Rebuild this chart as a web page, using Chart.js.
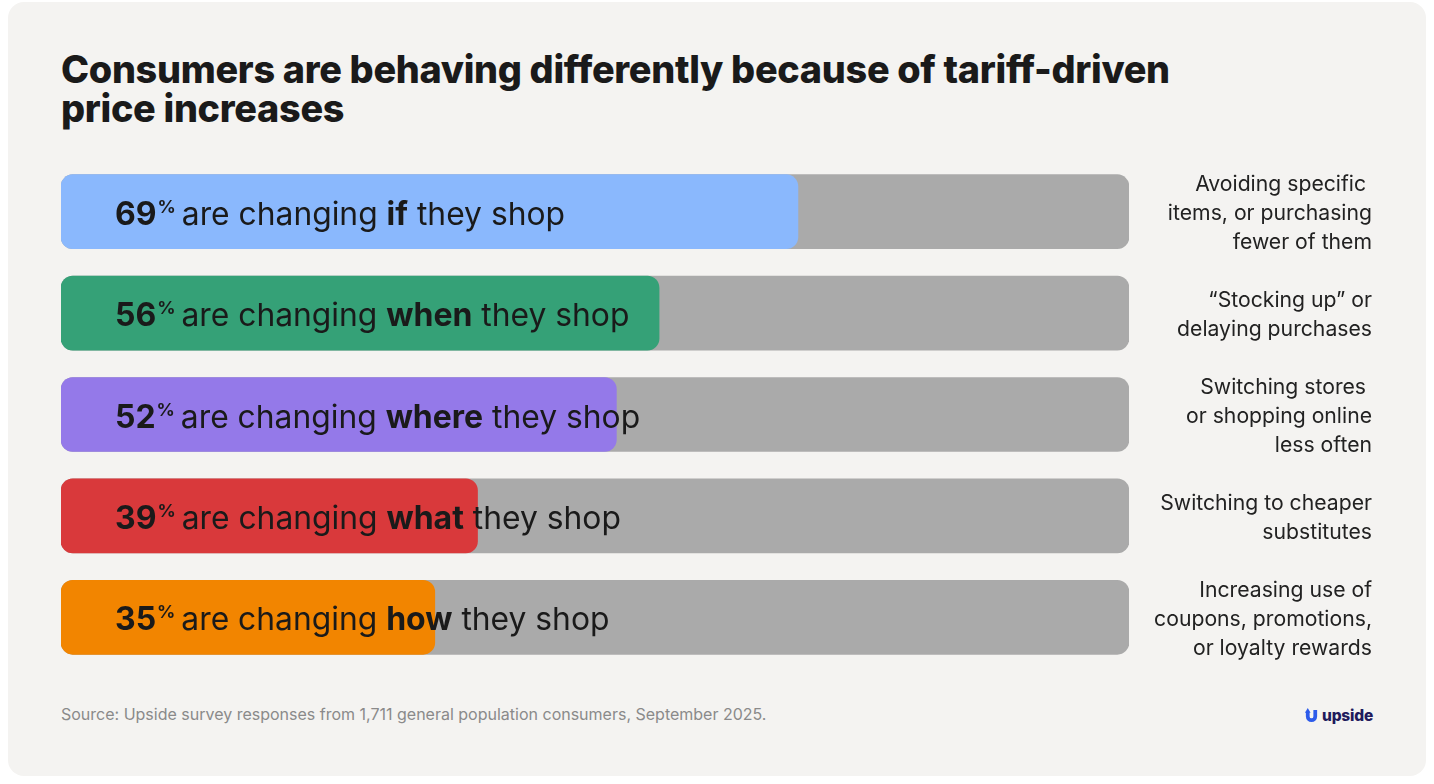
<!DOCTYPE html>
<html><head><meta charset="utf-8">
<script src="https://cdn.jsdelivr.net/npm/chart.js@4"></script>
<style>
html,body{margin:0;padding:0;background:#ffffff;}
body{width:1434px;height:784px;position:relative;overflow:hidden;font-family:Inter,sans-serif;}
#card{position:absolute;left:8px;top:2px;width:1418px;height:774px;background:#f4f3f1;border-radius:16px;}
#title{position:absolute;left:61px;top:50px;margin:0;font-family:Inter,sans-serif;font-weight:800;font-size:37.8px;line-height:39px;color:#1a1a1a;letter-spacing:-0.3px;}
#source{position:absolute;left:61px;top:704px;font-size:16px;color:#8a8a8a;}
#logo{position:absolute;left:1304px;top:706px;display:flex;align-items:center;gap:3px;font-weight:800;font-size:15.5px;color:#1f1b5c;letter-spacing:-0.2px;}
canvas{position:absolute;left:0;top:0;}
</style></head>
<body>
<div id="card"></div>
<h1 id="title">Consumers are behaving differently because of tariff-driven<br>price increases</h1>
<div id="source">Source: Upside survey responses from 1,711 general population consumers, September 2025.</div>
<div id="logo"><svg width="15" height="17" viewBox="0 0 16 18"><path d="M2 5 V10 A6 6 0 0 0 14 10 V3 H10 V10 A2 2 0 0 1 6 10 V5 Z" fill="#2d5bea"/><path d="M1 6 L4 1 L7 6 Z" fill="#2d5bea"/></svg><span>upside</span></div>
<canvas id="c" width="1434" height="784"></canvas>
<script>
const categories = ['if', 'when', 'where', 'what', 'how'];
const values = [69, 56, 52, 39, 35];
const totals = [100, 100, 100, 100, 100];
const barColors = ['#8ab8fd', '#35a177', '#9479e9', '#d9393b', '#f28500'];
const notes = [
  ['Avoiding specific ', 'items, or purchasing', 'fewer of them'],
  ['\u201CStocking up\u201D or', 'delaying purchases'],
  ['Switching stores ', 'or shopping online', 'less often'],
  ['Switching to cheaper', 'substitutes'],
  ['Increasing use of', 'coupons, promotions,', 'or loyalty rewards']
];

const labelPlugin = {
  id: 'labels',
  afterDatasetsDraw(chart) {
    const ctx = chart.ctx;
    const meta = chart.getDatasetMeta(0);
    ctx.save();
    meta.data.forEach((bar, i) => {
      const y = bar.y;
      let x = 115;
      const base = y + 13;
      ctx.fillStyle = '#1a1a1a';
      ctx.textAlign = 'left';
      ctx.textBaseline = 'alphabetic';
      ctx.font = '700 32px Inter';
      const num = String(values[i]);
      ctx.fillText(num, x, base); x += ctx.measureText(num).width + 1;
      ctx.font = '700 18px Inter';
      ctx.fillText('%', x, base - 12); x += ctx.measureText('%').width - 3;
      ctx.font = '400 31.8px Inter';
      const s1 = ' are changing ';
      ctx.fillText(s1, x, base); x += ctx.measureText(s1).width;
      ctx.font = '700 32px Inter';
      ctx.fillText(categories[i], x, base); x += ctx.measureText(categories[i]).width;
      ctx.font = '400 31.8px Inter';
      ctx.fillText(' they shop', x, base);
      // right notes
      ctx.font = '400 21.2px Inter';
      ctx.fillStyle = '#222222';
      ctx.textAlign = 'right';
      ctx.textBaseline = 'middle';
      const lines = notes[i];
      const lh = 29;
      const start = y + 2 - (lines.length - 1) * lh / 2;
      lines.forEach((ln, k) => ctx.fillText(ln, 1372, start + k * lh));
    });
    ctx.restore();
  }
};

new Chart(document.getElementById('c'), {
  type: 'bar',
  data: {
    labels: categories,
    datasets: [
      { data: values, backgroundColor: barColors, borderRadius: 12, borderSkipped: false, barThickness: 74, grouped: false },
      { data: totals, backgroundColor: '#aaaaaa', borderRadius: 12, borderSkipped: false, barThickness: 74, grouped: false }
    ]
  },
  options: {
    indexAxis: 'y',
    responsive: false,
    animation: false,
    layout: { padding: { left: 61, right: 305, top: 161, bottom: 116 } },
    plugins: { legend: { display: false }, tooltip: { enabled: false } },
    scales: {
      x: { display: false, min: 0, max: 100 },
      y: { display: false }
    }
  },
  plugins: [labelPlugin]
});
</script>
</body></html>
